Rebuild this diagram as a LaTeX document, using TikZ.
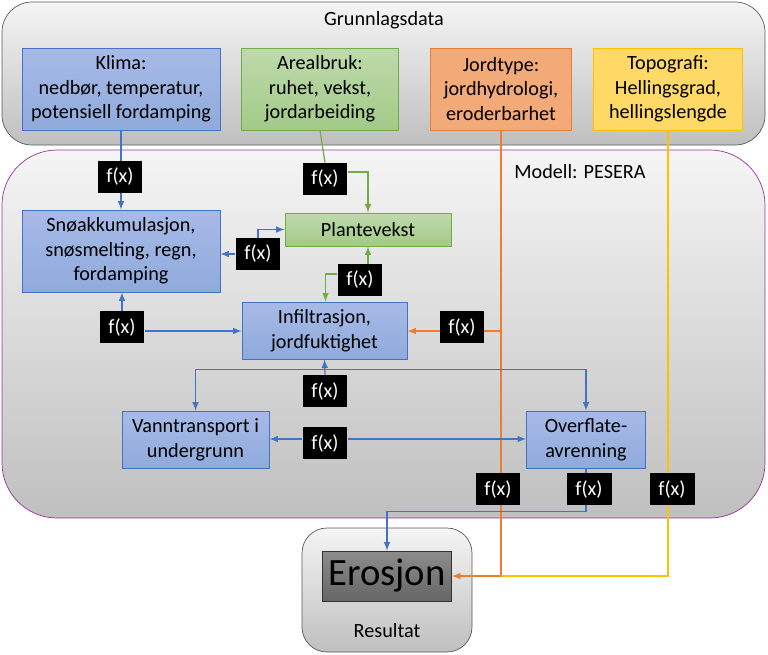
\documentclass[tikz,border=0pt]{standalone}
\usepackage{fontspec}
\setmainfont{Carlito}
\usetikzlibrary{positioning}
\definecolor{bluebd}{HTML}{4472C4}
\definecolor{greenbd}{HTML}{70AD47}
\definecolor{orangebd}{HTML}{ED7D31}
\definecolor{yellowbd}{HTML}{FFC000}
\pgfdeclarelayer{bg}
\pgfdeclarelayer{lines}
\pgfsetlayers{bg,lines,main}
\begin{document}
\begin{tikzpicture}[x=0.02cm, y=-0.02cm,
	txt/.style={font=\fontsize{11.5}{14}\selectfont},
	main/.style={rectangle, txt, align=center, inner sep=2pt},
	bluebox/.style={main, draw=bluebd, top color=blue!10!bluebd!45, bottom color=bluebd!60},
	greenbox/.style={main, draw=greenbd, top color=greenbd!45, bottom color=greenbd!65},
	fx/.style={rectangle, fill=black, text=white, txt, minimum width=0.9cm, minimum height=0.64cm, inner sep=0pt},
	frame/.style={rounded corners=0.6cm, top color=gray!8, bottom color=gray!50},
	link/.style={-latex, line width=0.7pt}
	]
	\useasboundingbox (0,0) rectangle (768,654);

	\begin{pgfonlayer}{bg}
		\path [frame, draw=black!65] (2,2) rectangle (765,145);
		\path [frame, draw=violet!80, rounded corners=1.1cm] (2,150) rectangle (765,518);
		\path [frame, draw=black!65, rounded corners=0.5cm] (302,528) rectangle (472,652);
	\end{pgfonlayer}

	\node (grunnlag) [txt] at (384,20) {Grunnlagsdata};
	\node (modell) [txt] at (580,172) {Modell: PESERA};
	\node (resultat) [txt] at (387,631) {Resultat};

		\node (klima) [bluebox, minimum width=3.96cm, minimum height=1.64cm] at (121,89) {Klima:\\nedbør, temperatur,\\potensiell fordamping};
		\node (arealbruk) [greenbox, minimum width=3.14cm, minimum height=1.64cm] at (320,89) {Arealbruk:\\ruhet, vekst,\\jordarbeiding};
		\node (jordtype) [main, draw=orangebd, fill=orangebd!65, minimum width=2.82cm, minimum height=1.64cm] at (501,89) {Jordtype:\\jordhydrologi,\\eroderbarhet};
		\node (topografi) [main, draw=yellowbd, fill=yellowbd!60, minimum width=2.98cm, minimum height=1.64cm] at (668,89) {Topografi:\\Hellingsgrad,\\hellingslengde};

		\node (sno) [bluebox, minimum width=3.96cm, minimum height=1.64cm] at (121,251) {Snøakkumulasjon,\\snøsmelting, regn,\\fordamping};
		\node (plante) [greenbox, minimum width=3.32cm, minimum height=0.66cm] at (368,229.5) {Plantevekst};
		\node (infil) [bluebox, minimum width=3.3cm, minimum height=1.14cm] at (324.5,330.5) {Infiltrasjon,\\jordfuktighet};
		\node (vann) [bluebox, minimum width=2.94cm, minimum height=1.14cm] at (195.5,439.5) {Vanntransport i\\undergrunn};
		\node (overflate) [bluebox, minimum width=2.38cm, minimum height=1.14cm] at (586,439.5) {Overflate-\\avrenning};
		\node (erosjon) [rectangle, draw=black!80, top color=black!45, bottom color=black!60, font=\fontsize{22}{26}\selectfont, minimum width=2.56cm, minimum height=1cm] at (387,576) {Erosjon};

		\node (fklima) [fx] at (120,177) {f(x)};
		\node (fareal) [fx] at (325,179) {f(x)};
		\node (fsno) [fx] at (258,254) {f(x)};
		\node (fplante) [fx] at (360,280) {f(x)};
		\node (finfil) [fx] at (122,327) {f(x)};
		\node (fjord) [fx] at (462,327) {f(x)};
		\node (fvann) [fx] at (325,391) {f(x)};
		\node (ftransp) [fx] at (325,443) {f(x)};
		\node (fjord2) [fx] at (498,489) {f(x)};
		\node (fover) [fx] at (589,489) {f(x)};
		\node (ftopo) [fx] at (672,489) {f(x)};

	\begin{pgfonlayer}{lines}
	\draw [link, bluebd] (klima.south) -- (sno.north);

	\draw [greenbd, line width=0.7pt] (arealbruk.south) -- (fareal.north);
	\draw [link, greenbd] (fareal.east)++(0,-7) -| (plante.north);

	\draw [link, bluebd] (fsno.west) -- (sno.east |- fsno.west);
	\draw [link, bluebd] (fsno.north) |- (plante.west);

	\draw [link, greenbd] (fplante.north -| plante.south) -- (plante.south);
	\draw [link, greenbd] (fplante.west)++(0,-6) -| ([xshift=0.02cm]infil.north);

	\draw [link, bluebd] (finfil.north) -- (sno.south -| finfil.north);
	\draw [link, bluebd] (finfil.east)++(0,4) -- (infil.west |- 0,331);

	\draw [link, orangebd] (jordtype.south) |- (erosjon.east);
	\draw [link, orangebd] (jordtype.south |- 0,331) -- (infil.east |- 0,331);

	\draw [link, bluebd] (fvann.north) -- (infil.south);
	\draw [link, bluebd] (fvann.north)++(0,-5) -| (vann.north);
	\draw [link, bluebd] (fvann.north)++(0,-5) -| (overflate.north);

	\draw [link, bluebd] (ftransp.west)++(0,-4) -- (vann.east |- 0,439);
	\draw [link, bluebd] (ftransp.east)++(0,-4) -- (overflate.west |- 0,439);

	\draw [link, bluebd] (overflate.south) -- ++(0,43) -| (erosjon.north);
	\draw [yellowbd, line width=0.7pt] (topografi.south -| 668,0) |- (jordtype.south |- erosjon.east);
	\end{pgfonlayer}

\end{tikzpicture}
\end{document}
